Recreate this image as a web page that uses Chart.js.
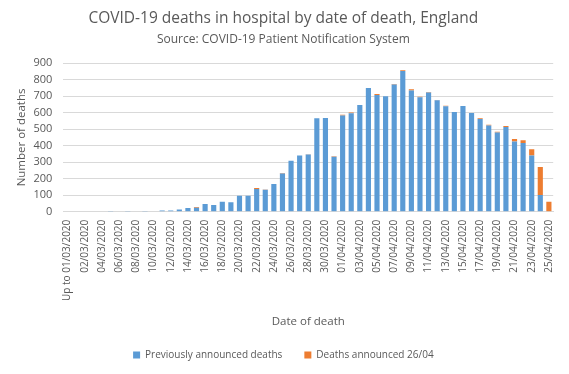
<!DOCTYPE html>
<html>
<head>
<meta charset="utf-8">
<script src="https://cdn.jsdelivr.net/npm/chart.js@4/dist/chart.umd.min.js"></script>
<style>
html,body{margin:0;padding:0;background:#fff;}
#wrap{width:569px;height:374px;}
</style>
</head>
<body>
<div id="wrap"><canvas id="c" width="569" height="374"></canvas></div>
<script>
const categories = ["Up to 01/03/2020",
"01/03/2020","02/03/2020","03/03/2020","04/03/2020","05/03/2020","06/03/2020","07/03/2020","08/03/2020","09/03/2020","10/03/2020",
"11/03/2020","12/03/2020","13/03/2020","14/03/2020","15/03/2020","16/03/2020","17/03/2020","18/03/2020","19/03/2020","20/03/2020",
"21/03/2020","22/03/2020","23/03/2020","24/03/2020","25/03/2020","26/03/2020","27/03/2020","28/03/2020","29/03/2020","30/03/2020","31/03/2020",
"01/04/2020","02/04/2020","03/04/2020","04/04/2020","05/04/2020","06/04/2020","07/04/2020","08/04/2020","09/04/2020","10/04/2020",
"11/04/2020","12/04/2020","13/04/2020","14/04/2020","15/04/2020","16/04/2020","17/04/2020","18/04/2020","19/04/2020","20/04/2020",
"21/04/2020","22/04/2020","23/04/2020","24/04/2020","25/04/2020"];

const previouslyAnnounced = [0,
0,0,0,0,1,0,1,2,1,3,
8,8,14,22,24,46,40,61,57,97,
97,137,133,168,232,309,341,347,567,568,333,
583,596,646,750,708,700,771,853,735,693,
723,676,639,604,641,598,562,523,480,514,
425,417,340,101,0];

const announced2604 = [0,
0,0,0,0,0,0,0,0,0,0,
0,0,0,0,4,0,0,0,0,0,
0,6,2,0,3,0,0,1,0,0,3,
5,5,0,0,5,0,3,4,7,3,
3,1,3,0,0,0,4,4,5,5,
16,16,38,170,61];

const yTicks = [0,100,200,300,400,500,600,700,800,900];

const grey = '#595959';
const gridCol = '#d9d9d9';
const FONT = 'Open Sans';

new Chart(document.getElementById('c'), {
  type: 'bar',
  data: {
    labels: categories,
    datasets: [
      {label: 'Previously announced deaths', data: previouslyAnnounced, backgroundColor: '#5B9BD5', barPercentage: 0.6, categoryPercentage: 1.0},
      {label: 'Deaths announced 26/04', data: announced2604, backgroundColor: '#ED7D31', barPercentage: 0.6, categoryPercentage: 1.0}
    ]
  },
  options: {
    responsive: false,
    animation: false,
    devicePixelRatio: 1,
    layout: {padding: {left: 10, right: 12.3, top: 0, bottom: 4}},
    plugins: {
      title: {display: true, text: 'COVID-19 deaths in hospital by date of death, England', color: grey,
        font: {family: FONT, size: 15.5, weight: 'normal'}, padding: {top: 9.5, bottom: 4.5}},
      subtitle: {display: true, text: 'Source: COVID-19 Patient Notification System', color: grey,
        font: {family: FONT, size: 12, weight: 'normal'}, padding: {top: 0, bottom: 16.2}},
      legend: {position: 'bottom', labels: {boxWidth: 7, boxHeight: 7, color: grey, padding: 22,
        font: {family: FONT, size: 10}}},
      tooltip: {enabled: false}
    },
    scales: {
      x: {
        stacked: true,
        afterFit: function(axis){ axis.height = 116.3; },
        grid: {display: false, drawTicks: false},
        border: {color: gridCol},
        ticks: {autoSkip: false, minRotation: 90, maxRotation: 90, color: grey, padding: 8,
          font: {family: FONT, size: 10},
          callback: function(v, i){ return i % 2 === 0 ? categories[i] : ''; }},
        title: {display: true, text: 'Date of death', color: grey, font: {family: FONT, size: 11.5}, padding: {top: 0, bottom: -1}}
      },
      y: {
        stacked: true,
        min: 0, max: 900,
        afterFit: function(axis){ axis.width = 53.3; },
        afterBuildTicks: function(axis){ axis.ticks = yTicks.map(v => ({value: v})); },
        grid: {color: gridCol, drawTicks: false},
        border: {display: false},
        ticks: {autoSkip: false, color: grey, padding: 11, font: {family: FONT, size: 11}},
        title: {display: true, text: 'Number of deaths', color: grey, font: {family: FONT, size: 11.5}, padding: {top: 5.1, bottom: 0}}
      }
    }
  }
});
</script>
</body>
</html>
